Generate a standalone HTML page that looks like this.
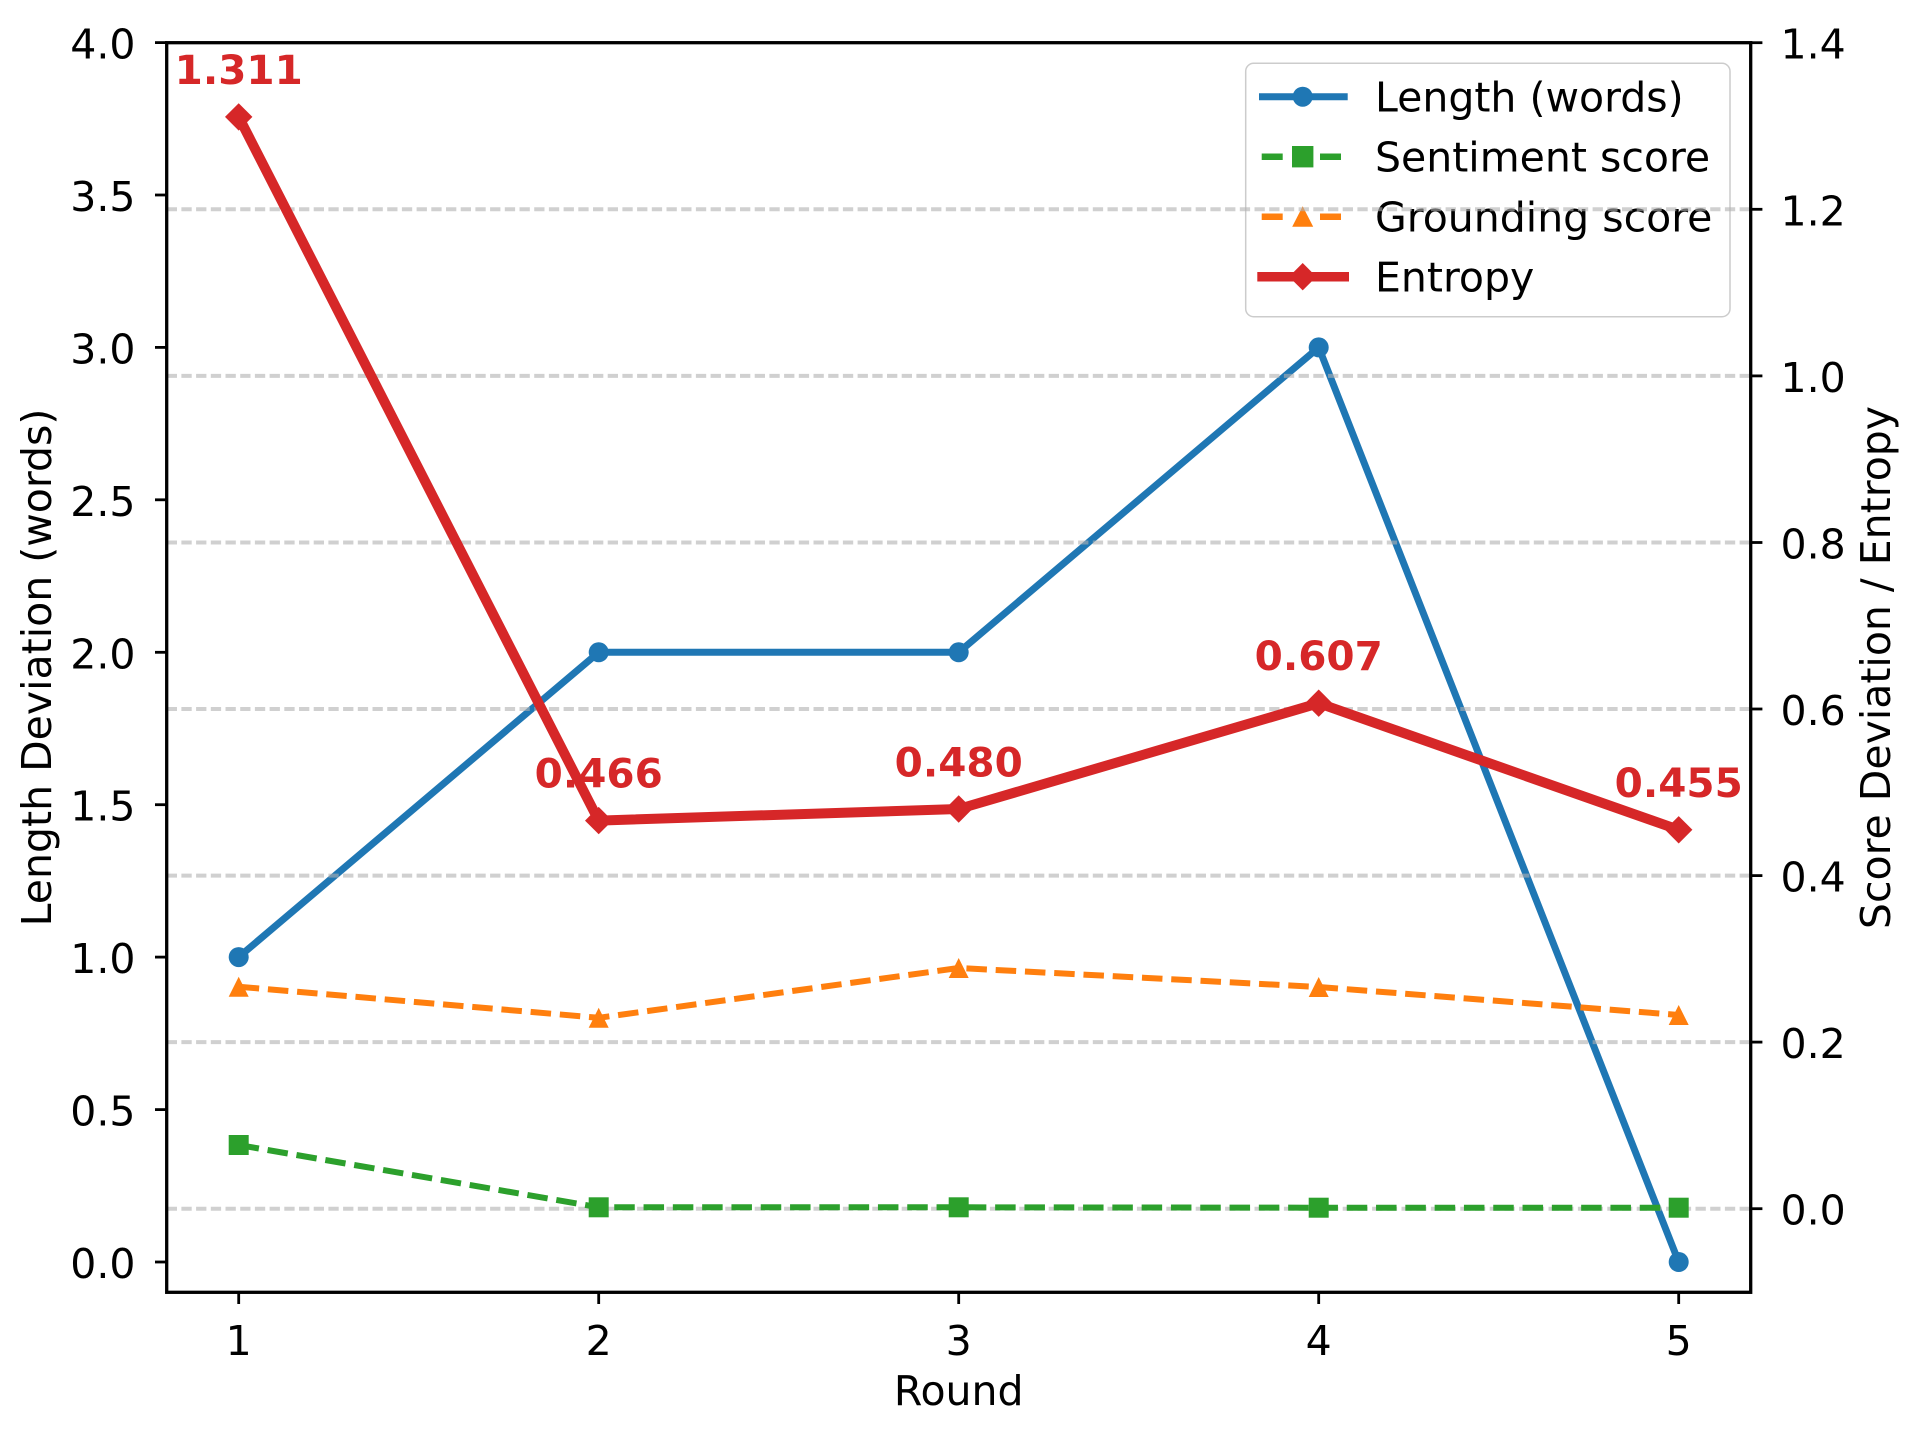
<!DOCTYPE html>
<html>
<head>
<meta charset="utf-8">
<style>
  html, body { margin: 0; padding: 0; background: #ffffff; }
  svg { display: block; }
  text { font-family: "DejaVu Sans", "Liberation Sans", sans-serif; font-size: 41px; fill: #000; }
  .ann { font-weight: bold; fill: #d62728; font-size: 40.5px; }
</style>
</head>
<body>
<svg width="1915" height="1432" viewBox="0 0 1915 1432" xmlns="http://www.w3.org/2000/svg">
  <rect x="0" y="0" width="1915" height="1432" fill="#ffffff"/>

  <!-- ax1 content: blue line -->
  <polyline points="238.7,957.1 598.7,652.3 958.7,652.3 1318.7,347.4 1678.7,1262" fill="none" stroke="#1f77b4" stroke-width="7" stroke-linejoin="round"/>
  <g fill="#1f77b4">
    <circle cx="238.7" cy="957.1" r="10"/>
    <circle cx="598.7" cy="652.3" r="10"/>
    <circle cx="958.7" cy="652.3" r="10"/>
    <circle cx="1318.7" cy="347.4" r="10"/>
    <circle cx="1678.7" cy="1262" r="10"/>
  </g>

  <!-- Legend (ax1) -->
  <rect x="1245.7" y="63.3" width="484.3" height="253.4" rx="8" ry="8" fill="#ffffff" fill-opacity="0.8" stroke="#cccccc" stroke-width="1.5"/>
  <!-- row 1 -->
  <line x1="1259" y1="96.7" x2="1347.7" y2="96.7" stroke="#1f77b4" stroke-width="7"/>
  <circle cx="1302.7" cy="96.7" r="10" fill="#1f77b4"/>
  <text x="1375" y="111.6">Length (words)</text>
  <!-- row 2 -->
  <line x1="1261.7" y1="156.7" x2="1282.7" y2="156.7" stroke="#2ca02c" stroke-width="6.5"/>
  <line x1="1320" y1="156.7" x2="1341" y2="156.7" stroke="#2ca02c" stroke-width="6.5"/>
  <rect x="1292" y="146" width="21.4" height="21.4" fill="#2ca02c"/>
  <text x="1375" y="171.6">Sentiment score</text>
  <!-- row 3 -->
  <line x1="1261.7" y1="216.7" x2="1282.7" y2="216.7" stroke="#ff7f0e" stroke-width="6.5"/>
  <line x1="1320" y1="216.7" x2="1341" y2="216.7" stroke="#ff7f0e" stroke-width="6.5"/>
  <polygon points="1302.7,206.2 1313.2,226.7 1292.2,226.7" fill="#ff7f0e"/>
  <text x="1375" y="231.6">Grounding score</text>
  <!-- row 4 -->
  <line x1="1257.3" y1="276.7" x2="1349" y2="276.7" stroke="#d62728" stroke-width="9.5"/>
  <polygon points="1302.7,263 1316.4,276.7 1302.7,290.4 1289,276.7" fill="#d62728"/>
  <text x="1375" y="291.6">Entropy</text>

  <!-- ax2: grid -->
  <g stroke="#b0b0b0" stroke-opacity="0.6" stroke-width="4" stroke-dasharray="10.3 4.4">
    <line x1="166.7" y1="1208.7" x2="1750.7" y2="1208.7"/>
    <line x1="166.7" y1="1042.1" x2="1750.7" y2="1042.1"/>
    <line x1="166.7" y1="875.6" x2="1750.7" y2="875.6"/>
    <line x1="166.7" y1="709.0" x2="1750.7" y2="709.0"/>
    <line x1="166.7" y1="542.5" x2="1750.7" y2="542.5"/>
    <line x1="166.7" y1="375.9" x2="1750.7" y2="375.9"/>
    <line x1="166.7" y1="209.3" x2="1750.7" y2="209.3"/>
  </g>

  <!-- green sentiment -->
  <polyline points="238.7,1145 598.7,1207.3 958.7,1207.3 1318.7,1207.7 1678.7,1207.7" fill="none" stroke="#2ca02c" stroke-width="6" stroke-dasharray="20.5 8.8"/>
  <g fill="#2ca02c">
    <rect x="228.7" y="1135" width="20" height="20"/>
    <rect x="588.7" y="1197.3" width="20" height="20"/>
    <rect x="948.7" y="1197.3" width="20" height="20"/>
    <rect x="1308.7" y="1197.7" width="20" height="20"/>
    <rect x="1668.7" y="1197.7" width="20" height="20"/>
  </g>

  <!-- orange grounding -->
  <polyline points="238.7,986.7 598.7,1017.8 958.7,968 1318.7,987 1678.7,1015" fill="none" stroke="#ff7f0e" stroke-width="6" stroke-dasharray="20.5 8.8"/>
  <g fill="#ff7f0e">
    <polygon points="238.7,976.7 248.7,996.7 228.7,996.7"/>
    <polygon points="598.7,1007.8 608.7,1027.8 588.7,1027.8"/>
    <polygon points="958.7,958 968.7,978 948.7,978"/>
    <polygon points="1318.7,977 1328.7,997 1308.7,997"/>
    <polygon points="1678.7,1005 1688.7,1025 1668.7,1025"/>
  </g>

  <!-- red entropy -->
  <polyline points="238.7,116.9 598.7,820.6 958.7,809 1318.7,703.2 1678.7,829.8" fill="none" stroke="#d62728" stroke-width="10" stroke-linejoin="round"/>
  <g fill="#d62728">
    <polygon points="238.7,103.2 252.4,116.9 238.7,130.6 225,116.9"/>
    <polygon points="598.7,806.9 612.4,820.6 598.7,834.3 585,820.6"/>
    <polygon points="958.7,795.3 972.4,809 958.7,822.7 945,809"/>
    <polygon points="1318.7,689.5 1332.4,703.2 1318.7,716.9 1305,703.2"/>
    <polygon points="1678.7,816.1 1692.4,829.8 1678.7,843.5 1665,829.8"/>
  </g>

  <!-- annotations -->
  <text class="ann" x="238.7" y="84" text-anchor="middle">1.311</text>
  <text class="ann" x="598.7" y="787.3" text-anchor="middle">0.466</text>
  <text class="ann" x="958.7" y="776.3" text-anchor="middle">0.480</text>
  <text class="ann" x="1318.7" y="670" text-anchor="middle">0.607</text>
  <text class="ann" x="1678.7" y="796.8" text-anchor="middle">0.455</text>

  <!-- spines -->
  <rect x="166.7" y="42.7" width="1584" height="1249.6" fill="none" stroke="#000" stroke-width="3.3"/>

  <!-- left ticks -->
  <g stroke="#000" stroke-width="2.8">
    <line x1="155" y1="1262" x2="166.7" y2="1262"/>
    <line x1="155" y1="1109.6" x2="166.7" y2="1109.6"/>
    <line x1="155" y1="957.1" x2="166.7" y2="957.1"/>
    <line x1="155" y1="804.7" x2="166.7" y2="804.7"/>
    <line x1="155" y1="652.3" x2="166.7" y2="652.3"/>
    <line x1="155" y1="499.8" x2="166.7" y2="499.8"/>
    <line x1="155" y1="347.4" x2="166.7" y2="347.4"/>
    <line x1="155" y1="195.0" x2="166.7" y2="195.0"/>
    <line x1="155" y1="42.6" x2="166.7" y2="42.6"/>
  </g>
  <g text-anchor="end">
    <text x="135.5" y="1278">0.0</text>
    <text x="135.5" y="1125.6">0.5</text>
    <text x="135.5" y="973.1">1.0</text>
    <text x="135.5" y="820.7">1.5</text>
    <text x="135.5" y="668.3">2.0</text>
    <text x="135.5" y="515.8">2.5</text>
    <text x="135.5" y="363.4">3.0</text>
    <text x="135.5" y="211">3.5</text>
    <text x="135.5" y="58.6">4.0</text>
  </g>

  <!-- right ticks -->
  <g stroke="#000" stroke-width="2.8">
    <line x1="1750.7" y1="1208.7" x2="1762.4" y2="1208.7"/>
    <line x1="1750.7" y1="1042.1" x2="1762.4" y2="1042.1"/>
    <line x1="1750.7" y1="875.6" x2="1762.4" y2="875.6"/>
    <line x1="1750.7" y1="709.0" x2="1762.4" y2="709.0"/>
    <line x1="1750.7" y1="542.5" x2="1762.4" y2="542.5"/>
    <line x1="1750.7" y1="375.9" x2="1762.4" y2="375.9"/>
    <line x1="1750.7" y1="209.3" x2="1762.4" y2="209.3"/>
    <line x1="1750.7" y1="42.7" x2="1762.4" y2="42.7"/>
  </g>
  <g>
    <text x="1780.5" y="1224.7">0.0</text>
    <text x="1780.5" y="1058.1">0.2</text>
    <text x="1780.5" y="891.6">0.4</text>
    <text x="1780.5" y="725">0.6</text>
    <text x="1780.5" y="558.5">0.8</text>
    <text x="1780.5" y="391.9">1.0</text>
    <text x="1780.5" y="225.3">1.2</text>
    <text x="1780.5" y="58.7">1.4</text>
  </g>

  <!-- x ticks -->
  <g stroke="#000" stroke-width="2.8">
    <line x1="238.7" y1="1292.3" x2="238.7" y2="1304"/>
    <line x1="598.7" y1="1292.3" x2="598.7" y2="1304"/>
    <line x1="958.7" y1="1292.3" x2="958.7" y2="1304"/>
    <line x1="1318.7" y1="1292.3" x2="1318.7" y2="1304"/>
    <line x1="1678.7" y1="1292.3" x2="1678.7" y2="1304"/>
  </g>
  <g text-anchor="middle">
    <text x="238.7" y="1355">1</text>
    <text x="598.7" y="1355">2</text>
    <text x="958.7" y="1355">3</text>
    <text x="1318.7" y="1355">4</text>
    <text x="1678.7" y="1355">5</text>
  </g>

  <!-- axis labels -->
  <text x="958.7" y="1405" text-anchor="middle">Round</text>
  <text transform="translate(51,667.5) rotate(-90)" text-anchor="middle">Length Deviation (words)</text>
  <text transform="translate(1890,667.5) rotate(-90)" text-anchor="middle">Score Deviation / Entropy</text>
</svg>
</body>
</html>
